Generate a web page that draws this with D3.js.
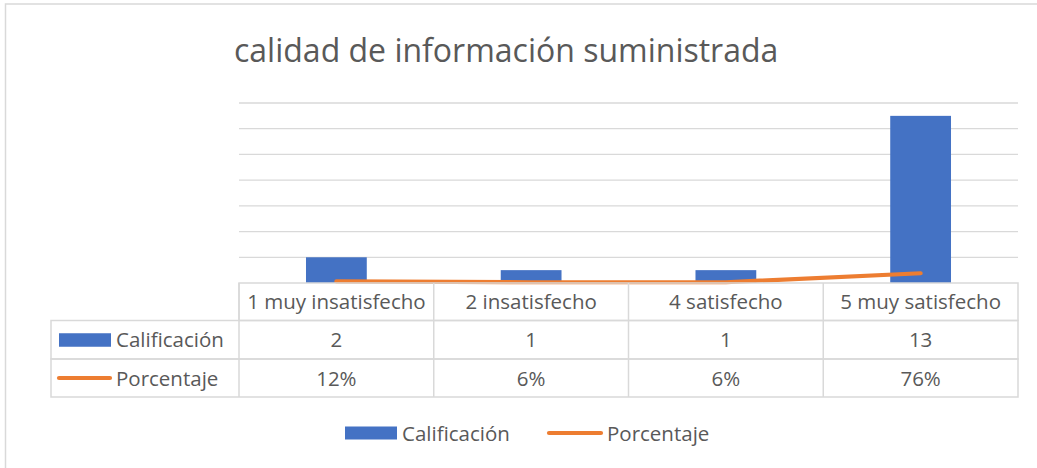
<!DOCTYPE html>
<html>
<head>
<meta charset="utf-8">
<script src="https://cdn.jsdelivr.net/npm/d3@7"></script>
<style>
  body { margin: 0; background: #fff; }
  text { font-family: "Open Sans", sans-serif; fill: #595959; }
</style>
</head>
<body>
<div id="chart"></div>
<script>
var categories = ["1 muy insatisfecho", "2 insatisfecho", "4 satisfecho", "5 muy satisfecho"];
var calificacion = [2, 1, 1, 13];
var porcentaje = [0.12, 0.06, 0.06, 0.76];
var y_ticks = [0, 2, 4, 6, 8, 10, 12, 14];
var series_names = ["Calificación", "Porcentaje"];

var blue = "#4472C4", orange = "#ED7D31", grid = "#D9D9D9";
var W = 1037, H = 468;
var margin = {left: 239, right: 19, top: 103, bottom: 185};
var width = W - margin.left - margin.right;
var height = H - margin.top - margin.bottom;

var svg = d3.select("#chart").append("svg")
    .attr("width", W).attr("height", H);

// chart frame
svg.append("rect")
    .attr("x", 5.5).attr("y", 4)
    .attr("width", W + 10).attr("height", H + 10)
    .attr("fill", "none").attr("stroke", grid).attr("stroke-width", 1.5);

svg.append("text")
    .attr("x", 234).attr("y", 62)
    .style("font-size", "32px")
    .text("calidad de información suministrada");

var vis = svg.append("g")
    .attr("transform", "translate(" + margin.left + "," + margin.top + ")");

var x = d3.scaleBand().domain(categories).range([0, width]).paddingInner(0.6879).paddingOuter(0.344);
var xc = d3.scalePoint().domain(categories).range([0, width]).padding(0.5);
var y = d3.scaleLinear().domain([0, 14]).range([height, 0]);

// gridlines
vis.append("g").selectAll("line")
    .data(y_ticks.slice(1))
    .enter().append("line")
    .attr("x1", 0).attr("x2", width)
    .attr("y1", function (d) { return y(d); })
    .attr("y2", function (d) { return y(d); })
    .attr("stroke", grid).attr("stroke-width", 1.3);

vis.append("g").selectAll("rect")
    .data(calificacion)
    .enter().append("rect")
    .attr("x", function (d, i) { return x(categories[i]); })
    .attr("width", x.bandwidth())
    .attr("y", function (d) { return y(d); })
    .attr("height", function (d) { return y(0) - y(d); })
    .attr("fill", blue);

var line = d3.line()
    .x(function (d, i) { return xc(categories[i]); })
    .y(function (d) { return y(d); });

vis.append("path")
    .datum(porcentaje)
    .attr("d", line)
    .attr("fill", "none")
    .attr("stroke", orange).attr("stroke-width", 4.2)
    .attr("stroke-linecap", "round").attr("stroke-linejoin", "round");

// Data table ------------------------------
var rowH = [37.5, 38.5, 38];
var tableTop = height;
var tableLeft = 51 - margin.left;
var tbl = vis.append("g").attr("class", "table");
var step = width / categories.length;
var pct = d3.format(".0%");

var rows = [
    {label: null, values: categories},
    {label: series_names[0], values: calificacion.map(String)},
    {label: series_names[1], values: porcentaje.map(pct)}
];

var yy = tableTop;
rows.forEach(function (r, ri) {
    var x0 = r.label === null ? 0 : tableLeft;
    tbl.append("rect")
        .attr("x", x0).attr("y", yy)
        .attr("width", width - x0).attr("height", rowH[ri])
        .attr("fill", "none").attr("stroke", grid).attr("stroke-width", 1.5);
    d3.range(0, categories.length).forEach(function (c) {
        tbl.append("line")
            .attr("x1", c * step).attr("x2", c * step)
            .attr("y1", yy).attr("y2", yy + rowH[ri])
            .attr("stroke", grid).attr("stroke-width", 1.5);
    });
    tbl.selectAll(null)
        .data(r.values)
        .enter().append("text")
        .attr("x", function (d, i) { return xc(categories[i]); })
        .attr("y", yy + rowH[ri] / 2 + 7.5)
        .attr("text-anchor", "middle")
        .style("font-size", "20.5px")
        .text(function (d) { return d; });
    if (r.label !== null) {
        var ky = yy + rowH[ri] / 2;
        if (ri === 1) {
            tbl.append("rect").attr("x", 59 - margin.left).attr("y", ky - 6.5)
                .attr("width", 52).attr("height", 13.5).attr("fill", blue);
        } else {
            tbl.append("line").attr("x1", 59 - margin.left).attr("x2", 110 - margin.left)
                .attr("y1", ky).attr("y2", ky)
                .attr("stroke", orange).attr("stroke-width", 4.2).attr("stroke-linecap", "round");
        }
        tbl.append("text")
            .attr("x", 116 - margin.left)
            .attr("y", yy + rowH[ri] / 2 + 7.5)
            .style("font-size", "20.5px")
            .text(r.label);
    }
    yy += rowH[ri];
});

// Legend ------------------------------
var legend = svg.append("g").attr("transform", "translate(0,433)");
legend.append("rect").attr("x", 345).attr("y", -6.5).attr("width", 52).attr("height", 13)
    .attr("fill", blue);
legend.append("text").attr("x", 402).attr("y", 7.5).style("font-size", "20.5px").text(series_names[0]);
legend.append("line").attr("x1", 549).attr("x2", 601).attr("y1", 0).attr("y2", 0)
    .attr("stroke", orange).attr("stroke-width", 4.2).attr("stroke-linecap", "round");
legend.append("text").attr("x", 607).attr("y", 7.5).style("font-size", "20.5px").text(series_names[1]);
</script>
</body>
</html>
